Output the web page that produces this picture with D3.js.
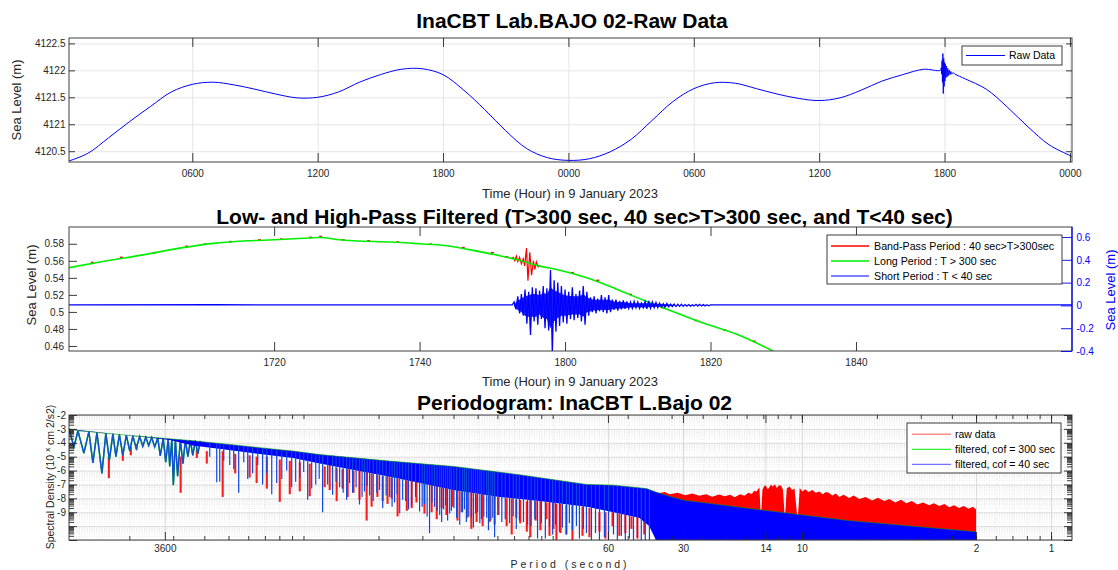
<!DOCTYPE html>
<html>
<head>
<meta charset="utf-8">
<script src="https://cdn.jsdelivr.net/npm/d3@7"></script>
<style>
  body { margin: 0; background: #fff; }
</style>
</head>
<body>
<svg id="chart" width="1118" height="570"></svg>
<script>
// ---------- panel 1 : raw sea level, hours from 00:00 on 9 January 2023 ----------
var rawHour = [0.1, 1, 2, 3, 4, 5, 6, 7, 8, 9, 10, 11, 12, 13, 14, 15, 16, 17, 18, 19, 20, 21, 22, 23, 24,
               25, 26, 27, 28, 29, 30, 31, 32, 33, 34, 35, 36, 37, 38, 39, 40, 41, 41.8,
               41.84, 41.86, 41.88, 41.9, 41.92, 41.94, 41.96, 41.98, 42, 42.02, 42.04, 42.06, 42.09, 42.12, 42.15, 42.18, 42.22, 42.26, 42.3, 42.35, 42.4,
               42.5, 43, 44, 45, 46, 47, 48, 48.1];
var rawLevel = [4120.32, 4120.46, 4120.75, 4121.05, 4121.33, 4121.6, 4121.74, 4121.78, 4121.73, 4121.65, 4121.56, 4121.49, 4121.5, 4121.6, 4121.78, 4121.92, 4122.02, 4122.03, 4121.92, 4121.63, 4121.27, 4120.88, 4120.55, 4120.38, 4120.33,
                4120.36, 4120.49, 4120.72, 4121.07, 4121.42, 4121.66, 4121.77, 4121.76, 4121.66, 4121.56, 4121.48, 4121.44, 4121.49, 4121.63, 4121.8, 4121.92, 4122.02, 4122.0,
                4122.05, 4121.93, 4122.18, 4121.78, 4122.31, 4121.57, 4122.22, 4121.7, 4122.15, 4121.8, 4122.12, 4121.86, 4122.08, 4121.88, 4122.04, 4121.9, 4122.01, 4121.92, 4121.98, 4121.93, 4121.96,
                4121.93, 4121.84, 4121.65, 4121.32, 4120.95, 4120.62, 4120.42, 4120.4];
var rawTicks = [6, 12, 18, 24, 30, 36, 42, 48];
var rawTickLabels = ["0600", "1200", "1800", "0000", "0600", "1200", "1800", "0000"];
var rawYTicks = [4120.5, 4121, 4121.5, 4122, 4122.5];

// ---------- panel 2 : filtered signals, minutes after 17:00 ----------
var longMin   = [-8.2, -3, 2, 7, 12, 16.5, 20, 24, 26.4, 29, 31, 36, 40, 43.5, 48.4, 53.3, 56.7, 59, 63, 67, 71, 75, 79, 83.7, 88.6];
var longLevel = [0.552, 0.56, 0.567, 0.5749, 0.5808, 0.5835, 0.5847, 0.5865, 0.5874, 0.5847, 0.5835, 0.582, 0.58, 0.578, 0.5705, 0.5615, 0.5535, 0.5495, 0.54, 0.527, 0.513, 0.5, 0.487, 0.4734, 0.454];
var bandMin   = [52.6, 52.9, 53.1, 53.3, 53.5, 53.75, 54.0, 54.25, 54.45, 54.7, 54.9, 55.15, 55.4, 55.65, 55.85, 56.05, 56.3, 56.6];
var bandLevel = [0.5625, 0.564, 0.56, 0.5655, 0.559, 0.564, 0.5565, 0.5625, 0.554, 0.575, 0.5365, 0.57, 0.543, 0.56, 0.55, 0.559, 0.553, 0.5545];
var bandDotMin   = [-5, -1, 3.5, 8, 10.5, 14, 18, 21, 25, 26.4, 29.5, 33, 37, 41.5, 46, 50, 52, 61, 64.5, 69, 73.5, 78, 82, 86];
var bandDotLevel = [0.558, 0.564, 0.5695, 0.577, 0.5795, 0.5825, 0.5845, 0.5855, 0.5875, 0.5885, 0.5845, 0.5835, 0.582, 0.5795, 0.5755, 0.5695, 0.5645, 0.546, 0.537, 0.5205, 0.505, 0.49, 0.4785, 0.4655];
var shortBaseMin   = [-8.2, 12, 34, 52.75, 80.25, 98, 129.7];
var shortBaseLevel = [0.004, 0.006, 0.004, 0.005, 0.005, 0.004, 0.005];
var shortStart = 53.0, shortStep = 0.25;
var shortBurst = [0.03, -0.035, 0.08, -0.07, 0.10, -0.09, 0.14, -0.16, 0.12, -0.26,
                  0.16, -0.14, 0.15, -0.17, 0.13, -0.12, 0.17, -0.2, 0.15, -0.22,
                  0.31, -0.42, 0.22, -0.23, 0.2, -0.18, 0.17, -0.15, 0.14, -0.16,
                  0.12, -0.12, 0.16, -0.13, 0.1, -0.11, 0.13, -0.14, 0.17, -0.17,
                  0.12, -0.09, 0.07, -0.06, 0.08, -0.07, 0.06, -0.05, 0.09, -0.06,
                  0.07, -0.07, 0.09, -0.06, 0.05, -0.04, 0.05, -0.045, 0.04, -0.035,
                  0.045, -0.03, 0.035, -0.025, 0.03, -0.025, 0.035, -0.02, 0.03, -0.025,
                  0.02, -0.02, 0.035, -0.03, 0.04, -0.025, 0.03, -0.02, 0.025, -0.02,
                  0.02, -0.015, 0.015, -0.015, 0.018, -0.012, 0.012, -0.01, 0.012, -0.01,
                  0.01, -0.008, 0.01, -0.008, 0.007, -0.006, 0.008, -0.006, 0.005, -0.005,
                  0.009, -0.006, 0.009, -0.005, 0.007, -0.004, 0.006, -0.003, 0.005];
// dense core of the short period burst (upper / lower edge)
var shortEnvMin = [53.0, 53.5, 54, 54.5, 55, 55.5, 56, 56.5, 57, 57.5, 58, 58.5, 59, 59.5, 60, 61, 62, 62.5, 63, 64, 65, 66, 67, 68, 69, 70, 71, 72, 73, 74, 75];
var shortEnvHi  = [0.01, 0.04, 0.06, 0.08, 0.09, 0.1, 0.1, 0.09, 0.11, 0.1, 0.16, 0.13, 0.12, 0.1, 0.09, 0.08, 0.08, 0.1, 0.07, 0.05, 0.05, 0.05, 0.03, 0.03, 0.02, 0.02, 0.02, 0.018, 0.012, 0.01, 0.006];
var shortEnvLo  = [-0.01, -0.04, -0.06, -0.09, -0.1, -0.1, -0.1, -0.08, -0.11, -0.12, -0.2, -0.14, -0.11, -0.09, -0.09, -0.08, -0.08, -0.1, -0.06, -0.045, -0.04, -0.04, -0.03, -0.025, -0.018, -0.016, -0.018, -0.014, -0.01, -0.008, -0.005];
var filtTicks = [20, 40, 60, 80, 100];
var filtTickLabels = ["1720", "1740", "1800", "1820", "1840"];
var filtLeftTicks = [0.46, 0.48, 0.5, 0.52, 0.54, 0.56, 0.58];
var filtRightTicks = [-0.4, -0.2, 0, 0.2, 0.4, 0.6];

// ---------- panel 3 : periodogram, exponent of spectral density vs period (s) ----------
var pgTopPeriod = [8730, 7890, 7200, 6400, 5100, 3780, 2780, 2030, 1500, 1100, 860, 465, 250, 136, 73, 57, 42, 38.5, 34, 29.4, 25, 16.7, 6.5, 2];
var pgTopExp    = [-3.0, -3.15, -3.2, -3.3, -3.45, -3.65, -3.85, -4.1, -4.35, -4.6, -4.85, -5.3, -5.7, -6.3, -7.0, -7.05, -7.3, -7.55, -7.85, -8.15, -8.3, -8.7, -9.6, -10.4];
var pgBandPeriod = [8730, 3440, 2780, 2030, 1500, 1100, 860, 650, 465, 340, 250, 163, 113, 73, 57, 45, 41, 38.5, 2];
var pgBandExp    = [-3.0, -3.8, -4.2, -4.5, -4.8, -5.1, -5.5, -5.9, -6.4, -6.9, -7.4, -7.9, -8.2, -8.6, -9.0, -9.4, -10.0, -11, -11];
var combPeriod = [8730, 8340, 8040, 7610, 7265, 7000, 6745, 6440, 6210, 6010, 5820, 5660, 5480, 5310, 5140, 4980, 4840, 4690, 4545, 4415,
                  4295, 4180, 4065, 3955, 3845, 3757, 3655, 3572, 3490, 3443, 3375, 3328, 3266, 3200, 3120, 3047, 2978, 2911, 2845, 2782,
                  2718, 2655, 2594];
var combExp = [-3.0, -4.3, -3.15, -4.75, -3.2, -5.45, -3.25, -6.2, -3.3, -5.25, -3.35, -5.0, -3.4, -4.9, -3.45, -4.6, -3.5, -4.4, -3.55, -4.25,
               -3.6, -4.2, -3.62, -4.3, -3.65, -4.95, -3.68, -5.4, -3.72, -5.7, -3.74, -7.05, -3.76, -6.4, -3.78, -5.5, -3.8, -5.0, -3.82, -4.9,
               -3.84, -4.8, -3.86];
var dipPeriod = [2229, 2168, 1977, 1820, 1600, 1459, 1341, 1222, 1115, 1035, 962, 893, 838, 764, 716, 671, 635, 596, 569, 543,
                 508, 481, 451, 431, 411, 389, 368, 342, 327, 312, 298, 284, 274, 264, 255, 243, 230, 222, 212, 204,
                 196, 189, 184, 177, 171, 166, 160, 155, 149, 144, 140, 136, 131, 126, 122, 118, 115, 111, 107, 103,
                 100, 97.4, 94, 91.4, 88.1, 85.7, 83.3, 80.3, 78.1, 75.3, 73.2, 69.9, 67.3, 64.9, 62, 59.7, 57, 55, 53, 51.1,
                 49.2, 47.4, 45.7, 44.1, 42.5, 40.9,
                 2378, 2089, 1905, 1737, 1674, 1526, 1404, 1281, 1168, 1075, 998, 927, 865, 800, 740, 693, 653, 615, 582, 555,
                 525, 495, 466, 441, 421, 400, 379, 355, 334, 319, 305, 291, 279, 269, 259, 249, 236, 226, 217, 208,
                 200, 193, 181, 174];
var dipExp = [-6.85, -6.8, -5.6, -7.6, -6.2, -7.0, -7.7, -6.6, -7.2, -6.5, -8.1, -7.0, -9.0, -7.75, -7.2, -8.1, -7.6, -8.45, -7.5, -7.8,
              -7.6, -8.7, -7.9, -8.3, -9.07, -8.2, -8.5, -8.95, -8.4, -10.5, -8.6, -9.2, -8.8, -9.6, -8.9, -9.4, -9.0, -9.7, -9.4, -9.1,
              -9.8, -9.3, -9.4, -9.6, -10.8, -9.2, -9.7, -9.5, -9.8, -9.3, -10.2, -9.6, -9.7, -9.9, -10.0, -9.5, -10.9, -9.8, -10.9, -10.0,
              -10.6, -9.9, -10.4, -10.1, -10.6, -9.8, -10.3, -10.0, -10.9, -10.2, -10.5, -11, -10.5, -11, -10.8, -11, -10.6, -11, -10.7, -11,
              -10.9, -11, -10.8, -11, -11, -11,
              -5.0, -5.3, -5.9, -5.4, -6.6, -5.6, -6.2, -6.9, -6.0, -6.8, -6.1, -7.3, -6.6, -7.0, -6.8, -7.6, -6.9, -7.2, -7.9, -7.1,
              -8.2, -7.4, -7.8, -8.6, -7.7, -8.1, -8.8, -7.9, -8.6, -9.3, -8.3, -8.9, -9.7, -8.5, -9.1, -8.7, -9.9, -8.8, -9.3, -10.1,
              -9.0, -9.5, -10.3, -9.4];
var redDipPeriod = [6040, 5310, 4930, 4670, 3111, 2680, 2444, 2110, 1879, 1645, 1542, 1403, 1245, 1135, 1035, 944, 822, 736, 697, 630,
                    558, 505, 481, 443, 385, 352, 327, 306, 279, 252, 232, 212, 202, 179, 165, 153, 140, 127, 117, 106,
                    99.3, 96.6, 88.1, 75.9, 64.9, 57.5, 54, 48.3, 42.9,
                    785, 665, 596, 533, 460, 419, 368, 292, 267, 241, 220, 191, 171, 146, 135, 123, 112, 103, 93, 83.3,
                    71.2, 61.4, 51.1, 45.7];
var redDipFrom = [-5.0, -4.6, -4.3, -4.1, -5.0, -4.5, -4.6, -4.6, -4.8, -4.9, -5.0, -5.0, -5.2, -5.3, -5.4, -5.5, -5.7, -5.8, -5.9, -6.0,
                  -6.1, -6.3, -6.4, -6.5, -6.7, -6.8, -6.9, -7.0, -7.2, -7.4, -7.5, -7.6, -7.7, -7.8, -7.9, -8.0, -8.1, -8.2, -8.2, -8.3,
                  -8.3, -8.4, -8.5, -8.6, -9.0, -9.0, -9.1, -9.3, -9.5,
                  -5.6, -5.9, -6.0, -6.2, -6.4, -6.6, -6.7, -7.1, -7.3, -7.4, -7.5, -7.7, -7.8, -8.0, -8.1, -8.1, -8.2, -8.3, -8.4, -8.5,
                  -8.7, -9.0, -9.2, -9.3];
var redDipTo = [-6.55, -5.3, -4.9, -4.5, -7.6, -5.1, -5.5, -7.9, -6.2, -6.5, -6.9, -7.3, -8.25, -7.7, -7.5, -7.85, -7.2, -8.2, -7.3, -7.6,
                -9.6, -7.9, -8.2, -8.0, -8.9, -8.3, -9.1, -9.0, -8.7, -8.6, -9.0, -10.2, -9.7, -9.7, -9.2, -10.0, -9.4, -10.4, -9.6, -9.5,
                -10.2, -11, -10.6, -10.7, -10.4, -10.0, -10.7, -10.2, -10.6,
                -7.4, -7.9, -8.1, -8.6, -8.4, -9.3, -8.7, -9.5, -9.2, -9.6, -9.4, -10.0, -9.9, -10.6, -9.8, -10.8, -10.3, -10.7, -10.5, -11,
                -10.8, -10.9, -10.5, -10.9];
var redTopPeriod = [38.7, 37.3, 35.5, 34, 31.5, 29.4, 27.5, 25.8, 24.2, 22.9, 21.5, 20.4, 19.4, 18.6, 17.7, 17.0, 16.4, 15.9, 15.5, 15.2,
                    14.8, 14.6, 14.4, 14.2, 14.0, 13.7, 13.5, 13.3, 13.1, 12.85, 12.6, 12.35, 12.1, 11.9, 11.7, 11.5, 11.2, 10.95, 10.7, 10.4,
                    10.2, 9.95, 9.7, 9.4, 9.08, 8.8, 8.5, 8.25, 8.0, 7.8, 7.55, 7.3, 7.07, 6.8, 6.46, 6.2, 5.88, 5.55, 5.22, 4.95,
                    4.67, 4.45, 4.22, 4.0, 3.81, 3.62, 3.44, 3.26, 3.09, 2.95, 2.81, 2.68, 2.56, 2.45, 2.34, 2.24, 2.14, 2.06, 2.0];
var redTopExp = [-7.56, -7.62, -7.55, -7.7, -7.6, -7.78, -7.65, -7.82, -7.7, -7.88, -7.72, -7.85, -7.75, -7.92, -7.7, -7.82, -7.6, -7.68, -7.45, -7.5,
                 -7.2, -9.5, -7.4, -7.15, -7.05, -7.35, -7.2, -7.0, -7.15, -6.98, -7.25, -7.05, -7.1, -7.4, -9.5, -7.3, -7.15, -7.4, -7.3, -9.6,
                 -7.25, -7.5, -7.35, -7.55, -7.4, -7.6, -7.5, -7.7, -7.55, -7.6, -7.8, -7.65, -7.9, -7.75, -7.98, -7.8, -8.05, -7.9, -8.15, -7.95,
                 -8.2, -8.05, -8.3, -8.1, -8.35, -8.2, -8.45, -8.3, -8.5, -8.35, -8.55, -8.4, -8.65, -8.5, -8.7, -8.55, -8.75, -8.6, -8.8];
var periodTicks = [3600, 60, 30, 14, 10, 2, 1];
var densityTicks = [-11, -10, -9, -8, -7, -6, -5, -4, -3, -2];

// ---------- helpers ----------
var svg = d3.select("#chart");
var ink = "#262626", gridInk = "#e2e2e2", fontFam = "'Liberation Sans', Arial, Helvetica, sans-serif";
var defs = svg.append("defs");

function clipRect(id, p) {
  defs.append("clipPath").attr("id", id).append("rect")
      .attr("x", p.left).attr("y", p.top)
      .attr("width", p.right - p.left).attr("height", p.bottom - p.top);
}

function axis(g, gen, tx, ty, col, size) {
  var a = g.append("g")
      .attr("transform", "translate(" + tx + "," + ty + ")")
      .attr("color", col || ink)
      .attr("font-family", fontFam)
      .attr("font-size", size || 12.5)
      .call(gen);
  a.select(".domain").remove();
  a.selectAll(".tick line").attr("stroke-width", 0.9);
  return a;
}

function label(g, txt, x, y, opt) {
  opt = opt || {};
  return g.append("text")
      .attr("transform", "translate(" + x + "," + y + ")" + (opt.rotate ? " rotate(-90)" : ""))
      .attr("text-anchor", "middle")
      .attr("font-family", fontFam)
      .attr("font-size", opt.size || 13)
      .attr("font-weight", opt.bold ? "bold" : null)
      .attr("letter-spacing", opt.spacing || null)
      .attr("fill", opt.color || ink)
      .text(txt);
}

function box(g, p) {
  g.append("rect").attr("x", p.left).attr("y", p.top)
      .attr("width", p.right - p.left).attr("height", p.bottom - p.top)
      .attr("fill", "none").attr("stroke", "#404040").attr("stroke-width", 1);
}

function legend(g, b, items) {
  g.append("rect").attr("x", b.x).attr("y", b.y).attr("width", b.w).attr("height", b.h)
      .attr("fill", "#fff").attr("stroke", ink).attr("stroke-width", 0.9);
  items.forEach(function(it, i) {
    var yy = b.y + b.first + i * b.step;
    g.append("line").attr("x1", b.x + b.l1).attr("x2", b.x + b.l2).attr("y1", yy).attr("y2", yy)
        .attr("stroke", it.color).attr("stroke-width", it.width || 1).attr("opacity", it.opacity || 1);
    g.append("text").attr("x", b.x + b.tx).attr("y", yy + b.size * 0.36)
        .attr("font-family", fontFam).attr("font-size", b.size).attr("fill", "#000").text(it.text);
  });
}

// ================= panel 1 =================
var p1 = {left: 69, right: 1072, top: 38, bottom: 162};
var x1 = d3.scaleLinear().domain([0.1, 48.1]).range([p1.left, p1.right]);
var y1 = d3.scaleLinear().domain([4120.3, 4122.6]).range([p1.bottom, p1.top]);
var g1 = svg.append("g");
clipRect("clip1", p1);

axis(g1, d3.axisBottom(x1).tickValues(rawTicks).tickFormat("").tickSize(-(p1.bottom - p1.top)), 0, p1.bottom, gridInk);
axis(g1, d3.axisLeft(y1).tickValues(rawYTicks).tickFormat("").tickSize(-(p1.right - p1.left)), p1.left, 0, gridInk);

g1.append("path")
    .datum(d3.zip(rawHour, rawLevel))
    .attr("clip-path", "url(#clip1)")
    .attr("fill", "none")
    .attr("stroke", "#0000ff")
    .attr("stroke-width", 1)
    .attr("d", d3.line().x(d => x1(d[0])).y(d => y1(d[1])).curve(d3.curveCatmullRom.alpha(0.5)));

box(g1, p1);
axis(g1, d3.axisBottom(x1).tickValues(rawTicks).tickFormat((d, i) => rawTickLabels[i]).tickSizeInner(-9).tickSizeOuter(0).tickPadding(8), 0, p1.bottom);
axis(g1, d3.axisTop(x1).tickValues(rawTicks).tickFormat("").tickSizeInner(-9).tickSizeOuter(0), 0, p1.top);
axis(g1, d3.axisLeft(y1).tickValues(rawYTicks).tickFormat(d3.format("~f")).tickSizeInner(-6).tickSizeOuter(0).tickPadding(3.5), p1.left, 0);
axis(g1, d3.axisRight(y1).tickValues(rawYTicks).tickFormat("").tickSizeInner(-6).tickSizeOuter(0), p1.right, 0);

label(g1, "InaCBT Lab.BAJO 02-Raw Data", 572, 28, {size: 21, bold: true, color: "#000"});
label(g1, "Time (Hour) in 9 January 2023", 570, 197.5);
label(g1, "Sea Level (m)", 21, 100, {rotate: true});
legend(g1, {x: 962, y: 46, w: 100, h: 19, first: 9.5, step: 0, l1: 4, l2: 43, tx: 47, size: 10.5},
       [{text: "Raw Data", color: "#0000ff"}]);

// ================= panel 2 =================
var p2 = {left: 69, right: 1072, top: 227, bottom: 351};
var x2 = d3.scaleLinear().domain([-8.2, 129.7]).range([p2.left, p2.right]);
var y2 = d3.scaleLinear().domain([0.4541, 0.5997]).range([p2.bottom, p2.top]);
var y2r = d3.scaleLinear().domain([-0.4, 0.688]).range([p2.bottom, p2.top]);
var g2 = svg.append("g");
clipRect("clip2", p2);
var plot2 = g2.append("g").attr("clip-path", "url(#clip2)");

var lineL = d3.line().x(d => x2(d[0])).y(d => y2(d[1]));
var lineR = d3.line().x(d => x2(d[0])).y(d => y2r(d[1]));

// band-pass (red): burst plus small points peeking around the long period line
plot2.append("path").datum(d3.zip(bandMin, bandLevel))
    .attr("fill", "none").attr("stroke", "#ff0000").attr("stroke-width", 1.2).attr("d", lineL);
plot2.selectAll(".bdot").data(d3.zip(bandDotMin, bandDotLevel)).enter().append("line")
    .attr("class", "bdot")
    .attr("x1", d => x2(d[0]) - 1.5).attr("x2", d => x2(d[0]) + 1.5)
    .attr("y1", d => y2(d[1])).attr("y2", d => y2(d[1]))
    .attr("stroke", "#ff0000").attr("stroke-width", 1.6);

// long period (green)
plot2.append("path").datum(d3.zip(longMin, longLevel))
    .attr("fill", "none").attr("stroke", "#00ee00").attr("stroke-width", 1.6)
    .attr("d", d3.line().x(d => x2(d[0])).y(d => y2(d[1])).curve(d3.curveMonotoneX));

// short period (blue, right axis)
plot2.append("path")
    .datum(d3.range(shortEnvMin.length))
    .attr("fill", "#0000ff").attr("opacity", 0.9)
    .attr("d", d3.area().x(i => x2(shortEnvMin[i])).y0(i => y2r(shortEnvLo[i])).y1(i => y2r(shortEnvHi[i])));
var shortPts = d3.zip(shortBaseMin, shortBaseLevel)
    .concat(shortBurst.map((v, i) => [shortStart + i * shortStep, v]))
    .sort((a, b) => a[0] - b[0]);
plot2.append("path").datum(shortPts)
    .attr("fill", "none").attr("stroke", "#0000ff").attr("stroke-width", 1.3).attr("d", lineR);

box(g2, p2);
g2.append("line").attr("x1", p2.right).attr("x2", p2.right).attr("y1", p2.top).attr("y2", p2.bottom)
    .attr("stroke", "#0000ff").attr("stroke-width", 1.2);
axis(g2, d3.axisBottom(x2).tickValues(filtTicks).tickFormat((d, i) => filtTickLabels[i]).tickSizeInner(-9).tickSizeOuter(0).tickPadding(7.5), 0, p2.bottom);
axis(g2, d3.axisTop(x2).tickValues(filtTicks).tickFormat("").tickSizeInner(-9).tickSizeOuter(0), 0, p2.top);
axis(g2, d3.axisLeft(y2).tickValues(filtLeftTicks).tickFormat(d3.format("~g")).tickSizeInner(-8).tickSizeOuter(0).tickPadding(5), p2.left, 0);
axis(g2, d3.axisRight(y2r).tickValues(filtRightTicks).tickFormat(d => String(d)).tickSizeInner(-11).tickSizeOuter(0).tickPadding(4.5), p2.right, 0, "#0000ff");

label(g2, "Low- and High-Pass Filtered (T>300 sec, 40 sec>T>300 sec, and T<40 sec)", 584.5, 224, {size: 21, bold: true, color: "#000"});
label(g2, "Time (Hour) in 9 January 2023", 570, 385.5);
label(g2, "Sea Level (m)", 35.5, 285, {rotate: true});
label(g2, "Sea Level (m)", 1114.5, 290, {rotate: true, color: "#0000ff"});
legend(g2, {x: 827, y: 235, w: 235, h: 49, first: 11, step: 15, l1: 4, l2: 42, tx: 47, size: 10.7}, [
  {text: "Band-Pass Period : 40 sec>T>300sec", color: "#ff0000", width: 1.5},
  {text: "Long Period : T > 300 sec", color: "#00ee00", width: 1.5},
  {text: "Short Period : T < 40 sec", color: "#0000ff"}
]);

// ================= panel 3 =================
var p3 = {left: 69, right: 1072, top: 415, bottom: 540};
var x3 = d3.scaleLog().domain([8730, 0.824]).range([p3.left, p3.right]);
var y3 = d3.scaleLinear().domain([-11, -2]).range([p3.bottom, p3.top]);
var g3 = svg.append("g");
clipRect("clip3", p3);
var line3 = d3.line().x(d => x3(d[0])).y(d => y3(d[1]));

// log minor positions for ticks and grid
var freqMinor = [];
[-4, -3, -2, -1, 0].forEach(n => d3.range(1, 10).forEach(k => {
  var p = 1 / (k * Math.pow(10, n));
  if (p <= 8730 && p >= 0.824) freqMinor.push(p);
}));
var expMinor = [];
d3.range(-11, -2).forEach(n => d3.range(2, 10).forEach(k => expMinor.push(n + Math.log10(k))));

// grid
axis(g3, d3.axisBottom(x3).tickValues(freqMinor).tickFormat("").tickSize(-(p3.bottom - p3.top)), 0, p3.bottom, "#e6e6e6")
    .selectAll("line").attr("stroke-dasharray", "1,1.5");
axis(g3, d3.axisLeft(y3).tickValues(expMinor).tickFormat("").tickSize(-(p3.right - p3.left)), p3.left, 0, "#e6e6e6")
    .selectAll("line").attr("stroke-dasharray", "1,1.5");
axis(g3, d3.axisBottom(x3).tickValues(periodTicks).tickFormat("").tickSize(-(p3.bottom - p3.top)), 0, p3.bottom, "#d8d8d8");
axis(g3, d3.axisLeft(y3).tickValues(densityTicks).tickFormat("").tickSize(-(p3.right - p3.left)), p3.left, 0, "#d8d8d8");

var plot3 = g3.append("g").attr("clip-path", "url(#clip3)");

// raw data (red): nulls of the comb and the high-frequency part
plot3.selectAll(".rdip").data(d3.range(redDipPeriod.length)).enter().append("line")
    .attr("class", "rdip")
    .attr("x1", i => x3(redDipPeriod[i])).attr("x2", i => x3(redDipPeriod[i]))
    .attr("y1", i => y3(redDipFrom[i])).attr("y2", i => y3(redDipTo[i]))
    .attr("stroke", "#ff1a1a").attr("stroke-width", 2.1);
var redPoly = [[redTopPeriod[0], -11]].concat(d3.zip(redTopPeriod, redTopExp), [[redTopPeriod[redTopPeriod.length - 1], -11]]);
plot3.append("path").attr("d", line3(redPoly) + "Z").attr("fill", "#ff0000");

// cof = 300 s (green) under the blue comb
plot3.append("path").datum(d3.zip(combPeriod, combExp))
    .attr("fill", "none").attr("stroke", "#00b000").attr("stroke-width", 1.5).attr("d", line3);

// cof = 40 s (blue)
plot3.append("path").datum(d3.zip(combPeriod, combExp))
    .attr("fill", "none").attr("stroke", "#1050d8").attr("stroke-width", 1.35).attr("d", line3);
var bandPoly = d3.zip(pgTopPeriod, pgTopExp).concat(d3.zip(pgBandPeriod, pgBandExp).reverse());
plot3.append("path").attr("d", line3(bandPoly) + "Z").attr("fill", "#0000ff");

var topPoly = [[pgTopPeriod[0], -11]].concat(d3.zip(pgTopPeriod, pgTopExp), [[pgTopPeriod[pgTopPeriod.length - 1], -11]]);
defs.append("clipPath").attr("id", "under-top").append("path").attr("d", line3(topPoly) + "Z");
plot3.append("g").attr("clip-path", "url(#under-top)")
  .selectAll(".bdip").data(d3.zip(dipPeriod, dipExp)).enter().append("line")
    .attr("class", "bdip")
    .attr("x1", d => x3(d[0])).attr("x2", d => x3(d[0]))
    .attr("y1", y3(-2)).attr("y2", d => y3(d[1]))
    .attr("stroke", "#1046e0").attr("stroke-width", 1.2);

// thin green edge along the top of the spectrum
plot3.append("path").datum(d3.zip(pgTopPeriod, pgTopExp))
    .attr("fill", "none").attr("stroke", "#00a000").attr("stroke-width", 0.8).attr("opacity", 0.7).attr("d", line3);

box(g3, p3);
axis(g3, d3.axisBottom(x3).tickValues(freqMinor).tickFormat("").tickSizeInner(-4).tickSizeOuter(0), 0, p3.bottom);
axis(g3, d3.axisTop(x3).tickValues(freqMinor).tickFormat("").tickSizeInner(-4).tickSizeOuter(0), 0, p3.top);
axis(g3, d3.axisBottom(x3).tickValues(periodTicks).tickFormat(d => String(d)).tickSizeInner(-8).tickSizeOuter(0).tickPadding(5), 0, p3.bottom, ink, 11.5);
axis(g3, d3.axisTop(x3).tickValues(periodTicks).tickFormat("").tickSizeInner(-8).tickSizeOuter(0), 0, p3.top);
axis(g3, d3.axisLeft(y3).tickValues(expMinor).tickFormat("").tickSizeInner(-5).tickSizeOuter(0), p3.left, 0);
axis(g3, d3.axisRight(y3).tickValues(expMinor).tickFormat("").tickSizeInner(-5).tickSizeOuter(0), p3.right, 0);
axis(g3, d3.axisLeft(y3).tickValues(densityTicks).tickFormat(d => d >= -9 ? String(d) : "").tickSizeInner(-8).tickSizeOuter(0).tickPadding(3), p3.left, 0, ink, 11.5);
axis(g3, d3.axisRight(y3).tickValues(densityTicks).tickFormat("").tickSizeInner(-8).tickSizeOuter(0), p3.right, 0);

label(g3, "Periodogram: InaCBT L.Bajo 02", 574.5, 410, {size: 21, bold: true, color: "#000"});
label(g3, "Period (second)", 570, 568, {size: 10.5, spacing: 3});
var yl = label(g3, "Spectral Density (10 ", 54, 477, {rotate: true, size: 10.5});
yl.append("tspan").attr("baseline-shift", "super").attr("font-size", 8).text("x");
yl.append("tspan").text(" cm 2/s2)");
legend(g3, {x: 907, y: 423, w: 154, h: 50, first: 11.3, step: 15, l1: 5, l2: 44, tx: 48, size: 10.5}, [
  {text: "raw data", color: "#ff0000", width: 1.5, opacity: 0.45},
  {text: "filtered, cof = 300 sec", color: "#00ee00", width: 1.2, opacity: 0.8},
  {text: "filtered, cof = 40 sec", color: "#0000ff", width: 1.2, opacity: 0.55}
]);
</script>
</body>
</html>
